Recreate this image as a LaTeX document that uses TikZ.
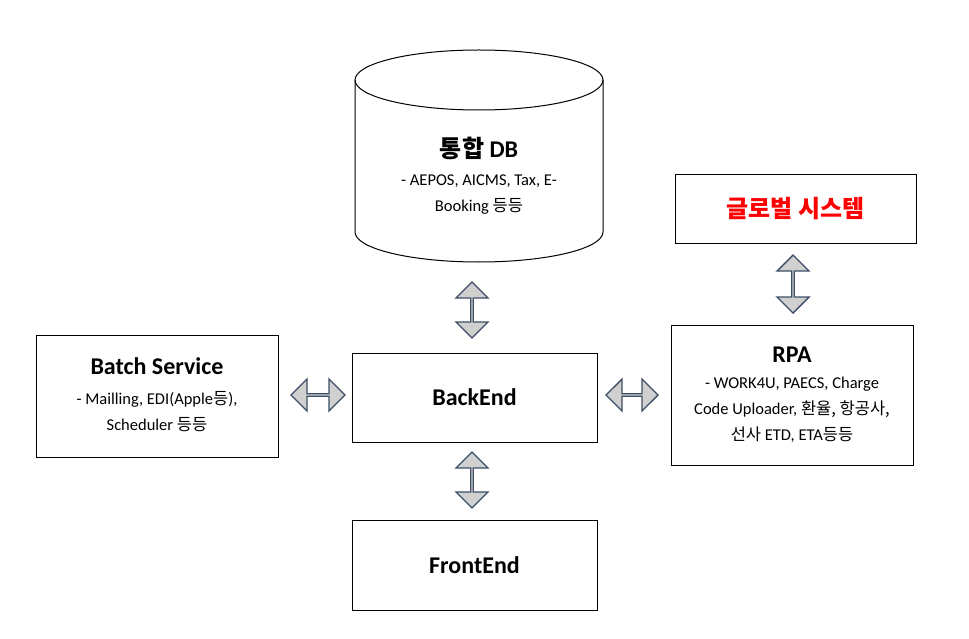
\documentclass[tikz,border=0pt]{standalone}
\usepackage{fontspec}
\setmainfont{Carlito}
\newfontfamily\kr{Noto Sans CJK KR}
\usetikzlibrary{positioning,shapes.arrows,calc}
\definecolor{arrowfill}{HTML}{D0D0D0}
\definecolor{arrowline}{HTML}{3C4F66}
\tikzset{
  box/.style={draw=black, fill=white, line width=0.8pt, align=center, inner sep=0pt},
  dbl/.style={double arrow, draw=arrowline, fill=arrowfill, line width=1.4pt,
    minimum width=32pt, double arrow head extend=8pt, double arrow head indent=0pt,
    inner sep=0pt, minimum height=#1},
  title/.style={font=\fontsize{24}{28}\selectfont\bfseries},
  body/.style={font=\fontsize{16.5}{26}\selectfont}
}
\begin{document}
\begin{tikzpicture}[x=1pt,y=-1pt]
\useasboundingbox (0,0) rectangle (969,639);
% database cylinder
\draw[line width=1pt, fill=white] (355,80) -- (355,232) arc[start angle=180,end angle=0,x radius=124,y radius=30] -- (603,80);
\draw[line width=1pt] (479,80) ellipse[x radius=124,y radius=30];
\node[title] (dbtitle) at (479,148) {{\kr 통합} DB};
\node[body, align=center] (dbtext) at (479,195) {- AEPOS, AICMS, Tax, E-\\Booking {\kr 등등}};
% boxes
\node[box, minimum width=241pt, minimum height=69pt] (global) at (795.5,208.5)
  {\textcolor{red}{\fontsize{24}{28}\selectfont\bfseries\kr 글로벌 시스템}};
\node[box, minimum width=242pt, minimum height=122pt] (batch) at (157,396) {};
\node[title] at (157,366) {Batch Service};
\node[body, align=center] at (157,412) {- Mailling, EDI(Apple{\kr 등}),\\Scheduler {\kr 등등}};
\node[box, minimum width=245pt, minimum height=89pt, title] (backend) at (474.5,397.5) {BackEnd};
\node[box, minimum width=242pt, minimum height=140pt] (rpa) at (792,395) {};
\node[title] at (792,355) {RPA};
\node[body, align=center] at (792,410) {- WORK4U, PAECS, Charge\\Code Uploader, {\kr 환율, 항공사,}\\{\kr 선사} ETD, ETA{\kr 등등}};
\node[box, minimum width=245pt, minimum height=90pt, title] (frontend) at (474.5,565) {FrontEnd};
% double arrows
\node[dbl=56pt, rotate=90] (a1) at (472,310) {};
\node[dbl=56pt, rotate=90] (a2) at (472,480) {};
\node[dbl=58pt, rotate=90] (a3) at (793,284) {};
\node[dbl=54pt] (a4) at (318,395) {};
\node[dbl=52pt] (a5) at (632,395) {};
\end{tikzpicture}
\end{document}
